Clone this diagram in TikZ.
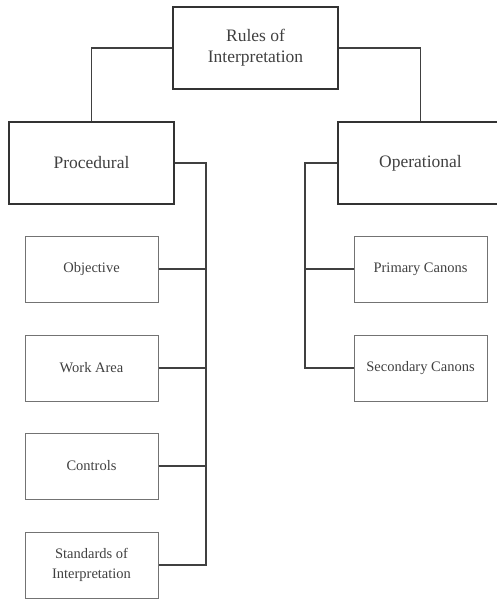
\documentclass[tikz,border=0pt]{standalone}
\usepackage{fontspec}
\setmainfont{Liberation Serif}
\begin{document}
\begin{tikzpicture}[x=1pt,y=-1pt,
  mainbox/.style={draw=black!80, line width=1.7pt, minimum width=165pt, minimum height=82pt,
    inner sep=0pt, align=center, text=black!75, font=\fontsize{17.5}{21}\selectfont},
  subbox/.style={draw=black!55, line width=1pt, minimum width=133pt, minimum height=66pt,
    inner sep=0pt, align=center, text=black!75, font=\fontsize{14.5}{20}\selectfont},
  conn/.style={draw=black!75, line width=1.1pt}]
\useasboundingbox (0,0) rectangle (497,599);
\clip (0,0) rectangle (497,599);
\node[mainbox] (top) at (255.5,48) {Rules of\\Interpretation};
\node[mainbox] (proc) at (91.5,163) {Procedural};
\node[mainbox] (oper) at (420.5,163) {Operational};
\node[subbox] (obj) at (91.5,269) {Objective};
\node[subbox] (work) at (91.5,368) {Work Area};
\node[subbox] (ctrl) at (91.5,466) {Controls};
\node[subbox] (std) at (91.5,565) {Standards of\\Interpretation};
\node[subbox] (prim) at (420.5,269) {Primary Canons};
\node[subbox] (sec) at (420.5,368) {Secondary Canons};
\coordinate (pbus) at (206,565);
\coordinate (obus) at (305,368);
\draw[conn] (top.west) -| (proc.north);
\draw[conn] (top.east) -| (oper.north);
\draw[conn] (proc.east) -| (pbus) -- (std.east);
\draw[conn] (obj.east) -- (obj.east -| pbus);
\draw[conn] (work.east) -- (work.east -| pbus);
\draw[conn] (ctrl.east) -- (ctrl.east -| pbus);
\draw[conn] (oper.west) -| (obus) -- (sec.west);
\draw[conn] (prim.west) -- (prim.west -| obus);
\end{tikzpicture}
\end{document}
